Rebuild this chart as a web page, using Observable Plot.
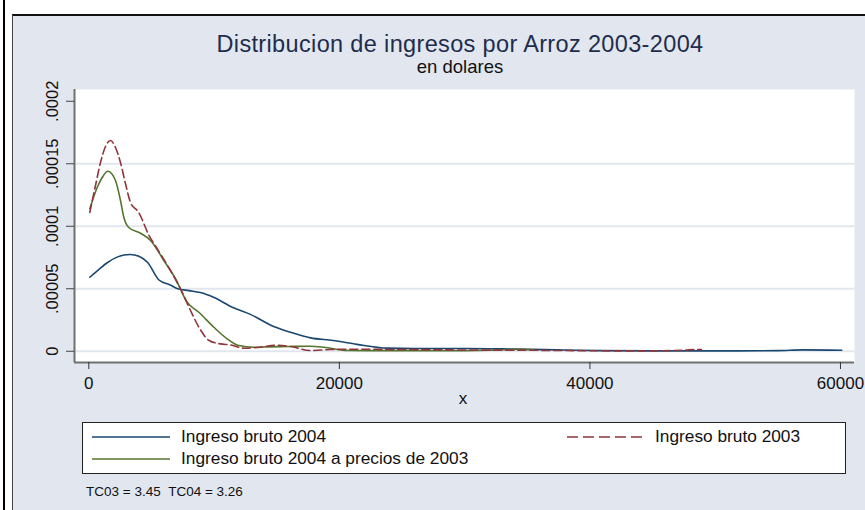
<!DOCTYPE html>
<html><head><meta charset="utf-8">
<script src="https://cdn.jsdelivr.net/npm/d3@7"></script>
<script src="https://cdn.jsdelivr.net/npm/@observablehq/plot@0.6"></script>
<style>
body{margin:0;background:#fff;font-family:"Liberation Sans",Arial,sans-serif;color:#111;}
#wrap{position:relative;width:865px;height:510px;overflow:hidden;background:#fff;}
#vline{position:absolute;left:3px;top:0;width:2px;height:510px;background:#000;}
#panel{position:absolute;left:12px;top:14px;width:853px;height:496px;background:#e1e6ef;border-top:2px solid #111;border-left:1px solid #444;box-sizing:border-box;}
#chart{position:absolute;left:0;top:0;}
.t{position:absolute;white-space:nowrap;line-height:1;}
#title{left:60px;width:800px;text-align:center;font-size:23.5px;letter-spacing:0.35px;top:33px;color:#1f2d4d;}
#subtitle{left:60px;width:800px;text-align:center;font-size:18.5px;top:58px;color:#111;}
#xlabel{left:363px;width:200px;text-align:center;font-size:17px;top:390px;}
#legend{position:absolute;left:82px;top:422px;width:764px;height:52px;background:#fff;border:1px solid #222;box-sizing:border-box;}
.lt{font-size:17.3px;}
#note{left:86px;top:485px;font-size:13.5px;}
</style></head><body>
<div id="wrap">
  <div id="vline"></div>
  <div id="panel"></div>
  <div id="chart"></div>
  <div id="title" class="t"></div>
  <div id="subtitle" class="t"></div>
  <div id="xlabel" class="t"></div>
  <div id="legend"></div>
  <div id="note" class="t"></div>
</div>
<script>
// ---- texts ----
const titleText = "Distribucion de ingresos por Arroz 2003-2004";
const subtitleText = "en dolares";
const xAxisTitle = "x";
const noteText = "TC03 = 3.45\u00a0\u00a0TC04 = 3.26";

// ---- ticks ----
const xTicks = [0, 20000, 40000, 60000];
const xTickLabels = ["0", "20000", "40000", "60000"];
const yTicks = [0, 0.00005, 0.0001, 0.00015, 0.0002];
const yTickLabels = ["0", ".00005", ".0001", ".00015", ".0002"];
const yGrid = [0, 0.00005, 0.0001, 0.00015];

// ---- series names ----
const seriesNames = ["Ingreso bruto 2004", "Ingreso bruto 2003", "Ingreso bruto 2004 a precios de 2003"];
const seriesColors = ["#1a476f", "#90353b", "#55752f"];

// ---- Ingreso bruto 2004 (blue) ----
const blueX = [80, 700, 1500, 2300, 3300, 4000, 4700, 5600, 6500, 7100, 8000, 8900, 10000, 11500, 12900, 14700, 16100, 17700, 19500, 21400, 23800, 26000, 30000, 34000, 38000, 41000, 45000, 50000, 55000, 57000, 60100];
const blueY = [5.92e-5, 6.45e-5, 7.1e-5, 7.55e-5, 7.74e-5, 7.6e-5, 7.1e-5, 5.7e-5, 5.3e-5, 5.0e-5, 4.85e-5, 4.7e-5, 4.3e-5, 3.5e-5, 2.95e-5, 2.0e-5, 1.52e-5, 1.07e-5, 0.86e-5, 0.55e-5, 0.25e-5, 0.22e-5, 0.22e-5, 0.17e-5, 0.1e-5, 0.05e-5, 0.03e-5, 0.03e-5, 0.05e-5, 0.11e-5, 0.08e-5];

// ---- Ingreso bruto 2003 (red dashed) ----
const redX = [80, 535, 935, 1300, 1730, 2130, 2530, 2930, 3330, 3990, 4790, 5460, 6520, 7320, 8120, 8920, 9600, 10500, 11300, 12400, 13500, 15000, 16100, 17700, 19300, 21150, 25000, 30000, 35000, 40000, 44000, 47500, 48300, 48900];
const redY = [11.1e-5, 13.26e-5, 15.1e-5, 16.3e-5, 16.86e-5, 16.3e-5, 15.1e-5, 13.4e-5, 11.9e-5, 11.1e-5, 9.3e-5, 8.2e-5, 6.46e-5, 5.0e-5, 3.26e-5, 1.7e-5, 0.86e-5, 0.59e-5, 0.51e-5, 0.24e-5, 0.3e-5, 0.48e-5, 0.38e-5, 0.06e-5, 0.14e-5, 0.16e-5, 0.14e-5, 0.1e-5, 0.08e-5, 0.04e-5, 0.03e-5, 0.08e-5, 0.14e-5, 0.13e-5];

// ---- Ingreso bruto 2004 a precios de 2003 (green) ----
const greenX = [80, 670, 1070, 1520, 2130, 2530, 2800, 3190, 4130, 4930, 5990, 6920, 7850, 8780, 9980, 11050, 11970, 13170, 14240, 16000, 17700, 18760, 20620, 24000, 28000, 32000, 34500, 35500];
const greenY = [11.4e-5, 13.1e-5, 13.9e-5, 14.4e-5, 13.66e-5, 12.06e-5, 10.7e-5, 9.9e-5, 9.44e-5, 8.86e-5, 7.26e-5, 5.8e-5, 3.92e-5, 3.12e-5, 1.92e-5, 0.99e-5, 0.46e-5, 0.32e-5, 0.35e-5, 0.38e-5, 0.40e-5, 0.32e-5, 0.06e-5, 0.05e-5, 0.04e-5, 0.08e-5, 0.16e-5, 0.12e-5];

const toRows = (xs, ys) => xs.map((x, i) => ({x, y: ys[i]}));
const blue = toRows(blueX, blueY);
const red = toRows(redX, redY);
const green = toRows(greenX, greenY);

const xDomain = [-1141, 61120];
const yDomain = [-9.0e-6, 2.094e-4];

const plot = Plot.plot({
  width: 865, height: 410,
  marginLeft: 74, marginRight: 11, marginTop: 89, marginBottom: 48,
  x: {domain: xDomain},
  y: {domain: yDomain},
  style: {background: "transparent", fontFamily: "'Liberation Sans', Arial, sans-serif", overflow: "visible", color: "#111"},
  marks: [
    Plot.frame({fill: "white", stroke: null}),
    Plot.ruleY(yGrid, {stroke: "#e1e6ef", strokeWidth: 2}),
    Plot.line(blue, {x: "x", y: "y", stroke: seriesColors[0], strokeWidth: 1.6, curve: "monotone-x"}),
    Plot.line(green, {x: "x", y: "y", stroke: seriesColors[2], strokeWidth: 1.6, curve: "monotone-x"}),
    Plot.line(red, {x: "x", y: "y", stroke: seriesColors[1], strokeWidth: 1.6, strokeDasharray: "8,4", curve: "monotone-x"}),
    Plot.ruleX([xDomain[0]], {stroke: "#707070", strokeWidth: 2}),
    Plot.ruleY([yDomain[0]], {stroke: "#707070", strokeWidth: 2}),
    Plot.axisX(xTicks, {tickSize: 7, tickPadding: 7, fontSize: 17, tickFormat: (d) => xTickLabels[xTicks.indexOf(d)], stroke: "#333", label: null}),
    Plot.axisY(yTicks, {tickSize: 8, tickFormat: () => "", stroke: "#444", label: null}),
    Plot.text(yTicks, {y: (d) => d, text: (d, i) => yTickLabels[i], frameAnchor: "left", textAnchor: "middle", lineAnchor: "middle", dx: -22, rotate: -90, fontSize: 16.5, fill: "#111"})
  ]
});
document.getElementById("chart").appendChild(plot);

document.getElementById("title").textContent = titleText;
document.getElementById("subtitle").textContent = subtitleText;
document.getElementById("xlabel").textContent = xAxisTitle;
document.getElementById("note").textContent = noteText;

// ---- legend ----
const legend = document.getElementById("legend");
const legendItems = [
  {i: 0, sx: 9, tx: 98, y: 14},
  {i: 1, sx: 484, tx: 572, y: 14},
  {i: 2, sx: 9, tx: 98, y: 36}
];
legendItems.forEach(({i, sx, tx, y}) => {
  const ns = "http://www.w3.org/2000/svg";
  const svg = document.createElementNS(ns, "svg");
  svg.setAttribute("width", 80); svg.setAttribute("height", 6);
  svg.style.position = "absolute"; svg.style.left = sx + "px"; svg.style.top = (y - 3) + "px";
  const ln = document.createElementNS(ns, "line");
  ln.setAttribute("x1", 0); ln.setAttribute("x2", 78); ln.setAttribute("y1", 3); ln.setAttribute("y2", 3);
  ln.setAttribute("stroke", seriesColors[i]); ln.setAttribute("stroke-width", 1.6);
  if (i === 1) ln.setAttribute("stroke-dasharray", "11,5");
  svg.appendChild(ln);
  legend.appendChild(svg);
  const t = document.createElement("div");
  t.className = "t lt";
  t.style.left = tx + "px"; t.style.top = (y - 9) + "px";
  t.textContent = seriesNames[i];
  legend.appendChild(t);
});
</script>
</body></html>
